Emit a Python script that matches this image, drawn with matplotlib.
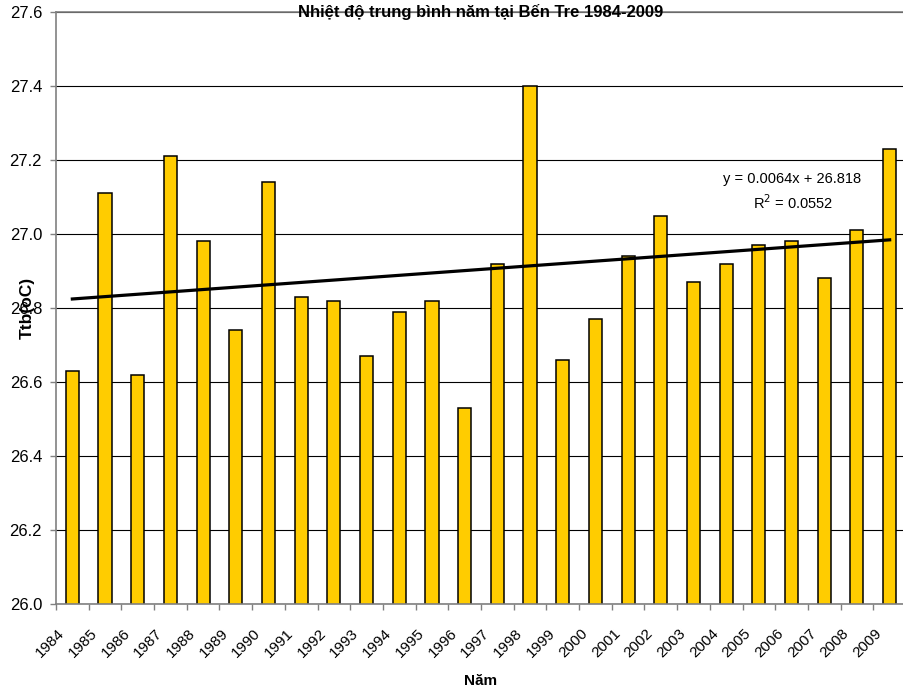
import matplotlib
matplotlib.use("Agg")
import matplotlib.pyplot as plt
import matplotlib.transforms as mtransforms
import numpy as np

plt.rcParams['font.family'] = ['Liberation Sans', 'DejaVu Sans']

# Nhiet do trung binh nam tai Ben Tre
nam = ['1984', '1985', '1986', '1987', '1988', '1989', '1990', '1991', '1992',
       '1993', '1994', '1995', '1996', '1997', '1998', '1999', '2000', '2001',
       '2002', '2003', '2004', '2005', '2006', '2007', '2008', '2009']
ttb = [26.63, 27.11, 26.62, 27.21, 26.98, 26.74, 27.14, 26.83, 26.82,
       26.67, 26.79, 26.82, 26.53, 26.92, 27.40, 26.66, 26.77, 26.94,
       27.05, 26.87, 26.92, 26.97, 26.98, 26.88, 27.01, 27.23]

# duong xu the tuyen tinh (x = 1..26)
he_so_a = 0.0064
he_so_b = 26.818
r2 = 0.0552

W, H = 904, 691
fig = plt.figure(figsize=(W / 100, H / 100), dpi=100)
ax = fig.add_axes([56 / W, (H - 603.7) / H, 850 / W, 591.4 / H])

x = np.arange(len(nam))
ax.bar(x, ttb, width=0.4, bottom=0, color='#FFCC00', edgecolor='black',
       linewidth=1.1, zorder=2)

xt = x + 1
ax.plot(x, he_so_a * xt + he_so_b, color='black', linewidth=2.3, zorder=3)

ax.set_xlim(-0.5, len(nam) - 0.5)
ax.set_ylim(26.0, 27.6)
ax.set_yticks(np.arange(26.0, 27.61, 0.2))
ax.set_yticklabels(['%.1f' % v for v in np.arange(26.0, 27.61, 0.2)], fontsize=12)
ax.yaxis.grid(True, color='black', linewidth=0.8)
ax.set_axisbelow(True)

ax.set_xticks(x)
ax.set_xticklabels(nam, rotation=45, ha='right', va='center',
                   rotation_mode='anchor', fontsize=11)
ax.set_xticks(np.arange(-0.5, len(nam)), minor=True)
ax.tick_params(axis='x', which='major', length=0, pad=20)
ax.tick_params(axis='x', which='minor', length=4, width=1, color='#808080')
ax.tick_params(axis='y', length=4, width=1, color='#808080', pad=6)
dich = mtransforms.ScaledTranslation(-10 / 100, 0, fig.dpi_scale_trans)
for lb in ax.get_xticklabels():
    lb.set_transform(lb.get_transform() + dich)

for s in ['left', 'bottom', 'top']:
    ax.spines[s].set_color('#808080')
    ax.spines[s].set_linewidth(1.2)
ax.spines['right'].set_visible(False)

fig.text(480.5 / W, 1 - 12 / H, 'Nhiệt độ trung bình năm tại Bến Tre 1984-2009',
         ha='center', va='center', fontsize=12, fontweight='bold')
fig.text(27 / W, 1 - 308 / H, 'Ttb(oC)', rotation=90, ha='center', va='center',
         fontsize=12.5, fontweight='bold')
fig.text(481 / W, 1 - 681 / H, 'Năm', ha='center', va='center',
         fontsize=11, fontweight='bold')

fig.text(792.5 / W, 1 - 179 / H, 'y = %.4fx + %.3f' % (he_so_a, he_so_b),
         ha='center', va='center', fontsize=10.5)
fig.text(793 / W, 1 - 203 / H, 'R$^2$ = %.4f' % r2,
         ha='center', va='center', fontsize=10.5)

fig.savefig('out.png', dpi=100)
